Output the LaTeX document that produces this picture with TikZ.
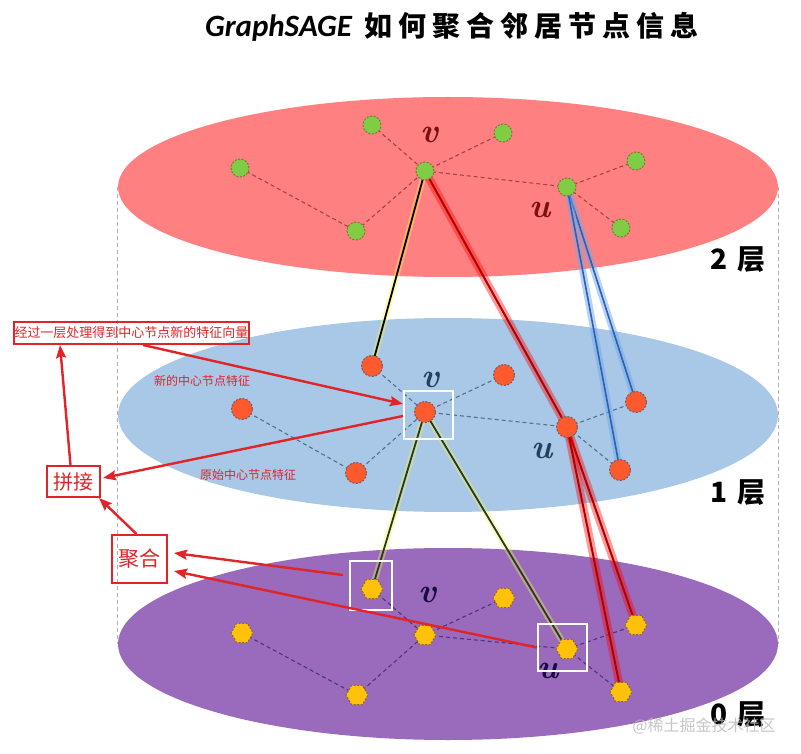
\documentclass[tikz,border=0pt]{standalone}
\usepackage{fontspec}
\newfontfamily\cjk{Noto Sans CJK SC}
\newfontfamily\carl{Carlito}
\usetikzlibrary{arrows.meta,shapes.geometric}
\definecolor{topfill}{HTML}{FF8080}
\definecolor{midfill}{HTML}{A9C7E6}
\definecolor{botfill}{HTML}{9A6BBC}
\definecolor{gfill}{HTML}{80CC44}
\definecolor{gline}{HTML}{8A7040}
\definecolor{ofill}{HTML}{FF5A2E}
\definecolor{oline}{HTML}{6E5A64}
\definecolor{yfill}{HTML}{FFC10A}
\definecolor{yline}{HTML}{8C6A2C}
\definecolor{tedgec}{HTML}{A8443F}
\definecolor{medgec}{HTML}{55708F}
\definecolor{bedgec}{HTML}{4C3480}
\definecolor{annot}{HTML}{E02428}
\definecolor{tvcol}{HTML}{7A1010}
\definecolor{mvcol}{HTML}{24405E}
\definecolor{bvcol}{HTML}{1A0A40}
\definecolor{bglowc}{HTML}{6FA8F0}
\definecolor{bcorec}{HTML}{2F5FAF}
\definecolor{rcorec}{HTML}{B00000}
\definecolor{gcorec}{HTML}{1F3A2A}
\begin{document}
\begin{tikzpicture}[x=1pt,y=-1pt,
  layer/.style={ellipse,inner sep=0pt,draw=none},
  sideline/.style={draw=gray!60,line width=0.8pt,dash pattern=on 4pt off 3pt},
  gnode/.style={circle,minimum size=18pt,inner sep=0pt,fill=gfill,draw=gline,line width=1pt,dash pattern=on 2pt off 1.5pt},
  onode/.style={circle,minimum size=21pt,inner sep=0pt,fill=ofill,draw=oline,line width=1pt,dash pattern=on 2pt off 1.5pt},
  ynode/.style={regular polygon,regular polygon sides=6,minimum size=22pt,inner sep=0pt,fill=yfill,draw=yline,line width=1pt,dash pattern=on 2pt off 1.5pt},
  tedge/.style={draw=tedgec,line width=1.1pt,dash pattern=on 4pt off 3pt},
  medge/.style={draw=medgec,line width=1.1pt,dash pattern=on 4pt off 3pt},
  bedge/.style={draw=bedgec,line width=1.1pt,dash pattern=on 4pt off 3pt},
  yglow/.style={draw=yellow!70!white,line width=6pt,opacity=.4},
  rglow/.style={draw=red,line width=8pt,opacity=.4},
  bglow/.style={draw=bglowc,line width=7pt,opacity=.5},
  kcore/.style={draw=black,line width=1.8pt},
  rcore/.style={draw=rcorec,line width=2pt},
  bcore/.style={draw=bcorec,line width=1.6pt},
  gcore/.style={draw=gcorec,line width=1.8pt},
  vlabel/.style={font=\bfseries\itshape\fontsize{34}{34}\selectfont,inner sep=0pt},
  wsq/.style={draw=white,line width=2pt,inner sep=0pt},
  layerlbl/.style={font=\cjk\bfseries\fontsize{28}{28}\selectfont,inner sep=0pt},
  redbox/.style={draw=annot,line width=2pt,inner sep=0pt,text=annot},
  annottext/.style={text=annot,font=\cjk\fontsize{12}{12}\selectfont,inner sep=0pt},
  redarrow/.style={draw=annot,line width=2.4pt,-{Stealth[length=13pt,width=10pt,inset=2pt]}}
]
\useasboundingbox (0,0) rectangle (801,754);
\fill[white] (0,0) rectangle (801,754);

% layers
\node[layer,fill=botfill,minimum width=660pt,minimum height=192pt] (L0) at (448,644) {};
\node[layer,fill=midfill,minimum width=660pt,minimum height=194pt] (L1) at (448,415) {};
\node[layer,fill=topfill,minimum width=660pt,minimum height=180pt] (L2) at (448,187) {};
\draw[sideline] (L2.west) -- (L0.west);
\draw[sideline] (L2.east) -- (L0.east);

% title
\node[inner sep=0pt] (title) at (452,27) {{\carl\bfseries\itshape\fontsize{31}{31}\selectfont GraphSAGE}\kern13pt{\cjk\bfseries\fontsize{28}{28}\selectfont 如\kern6pt何\kern6pt聚\kern6pt合\kern6pt邻\kern6pt居\kern6pt节\kern6pt点\kern6pt信\kern6pt息}};

% node coordinates
\coordinate (t1) at (372,125); \coordinate (t2) at (503,133); \coordinate (t3) at (240,168);
\coordinate (tv) at (425,171); \coordinate (t4) at (356,231); \coordinate (tu) at (567,187);
\coordinate (t5) at (636,161); \coordinate (t6) at (621,228);
\coordinate (m1) at (372,366); \coordinate (m2) at (504,375); \coordinate (m3) at (242,409);
\coordinate (mv) at (425,412); \coordinate (m4) at (356,473); \coordinate (mu) at (567,427);
\coordinate (m5) at (636,402); \coordinate (m6) at (620,470);
\coordinate (b1) at (372,589); \coordinate (b2) at (504,598); \coordinate (b3) at (242,633);
\coordinate (bv) at (425,635); \coordinate (b4) at (357,695); \coordinate (bu) at (567,649);
\coordinate (b5) at (636,625); \coordinate (b6) at (621,692);

% dashed edges
\draw[tedge] (t1) -- (tv); \draw[tedge] (t2) -- (tv); \draw[tedge] (t3) -- (t4);
\draw[tedge] (t4) -- (tv); \draw[tedge] (tv) -- (tu); \draw[tedge] (tu) -- (t5); \draw[tedge] (tu) -- (t6);
\draw[medge] (m1) -- (mv); \draw[medge] (m2) -- (mv); \draw[medge] (m3) -- (m4);
\draw[medge] (m4) -- (mv); \draw[medge] (mv) -- (mu); \draw[medge] (mu) -- (m5); \draw[medge] (mu) -- (m6);
\draw[bedge] (b1) -- (bv); \draw[bedge] (b2) -- (bv); \draw[bedge] (b3) -- (b4);
\draw[bedge] (b4) -- (bv); \draw[bedge] (bv) -- (bu); \draw[bedge] (bu) -- (b5); \draw[bedge] (bu) -- (b6);

% inter-layer lines
\draw[yglow] (tv) -- (m1); \draw[kcore] (tv) -- (m1);
\draw[rglow] (tv) -- (mu); \draw[rcore] (tv) -- (mu);
\draw[bglow] (tu) -- (m5); \draw[bcore] (tu) -- (m5);
\draw[bglow] (tu) -- (m6); \draw[bcore] (tu) -- (m6);
\draw[yglow] (mv) -- (b1); \draw[gcore] (mv) -- (b1);
\draw[yglow] (mv) -- (bu); \draw[gcore] (mv) -- (bu);
\draw[rglow] (mu) -- (b5); \draw[rcore] (mu) -- (b5);
\draw[rglow] (mu) -- (b6); \draw[rcore] (mu) -- (b6);

% nodes
\foreach \n in {t1,t2,t3,tv,t4,tu,t5,t6} \node[gnode] at (\n) {};
\foreach \n in {m1,m2,m3,mv,m4,mu,m5,m6} \node[onode] at (\n) {};
\foreach \n in {b1,b2,b3,bv,b4,bu,b5,b6} \node[ynode] at (\n) {};

% v/u labels
\node[vlabel,text=tvcol] (tvl) at (430,135) {v};
\node[vlabel,text=tvcol] (tul) at (540,210) {u};
\node[vlabel,text=mvcol] (mvl) at (431,380) {v};
\node[vlabel,text=mvcol] (mul) at (542,451) {u};
\node[vlabel,text=bvcol] (bvl) at (428,595) {v};
\node[vlabel,text=bvcol] (bul) at (548,671) {u};

% layer labels
\node[layerlbl] (lab2) at (738,260) {2\kern9pt层};
\node[layerlbl] (lab1) at (738,493) {1\kern9pt层};
\node[layerlbl] (lab0) at (738,715) {0\kern9pt层};

% white squares
\node[wsq,minimum width=49pt,minimum height=48pt] (sqv) at (428.5,415) {};
\node[wsq,minimum width=42pt,minimum height=49pt] (sqb1) at (371,585.5) {};
\node[wsq,minimum width=49pt,minimum height=47pt] (sqbu) at (562.5,647.5) {};

% annotation boxes and texts
\node[redbox,minimum width=235pt,minimum height=22pt,font=\cjk\fontsize{13}{13}\selectfont] (box1) at (131.5,333) {经过一层处理得到中心节点新的特征向量};
\node[redbox,minimum width=53pt,minimum height=31pt,font=\cjk\fontsize{20}{20}\selectfont] (pinjie) at (73.5,481.5) {拼接};
\node[redbox,minimum width=55pt,minimum height=48pt,font=\cjk\fontsize{21}{21}\selectfont] (juhe) at (139.5,559) {聚合};
\node[annottext] (newf) at (202,381) {新的中心节点特征};
\node[annottext] (oldf) at (248,475) {原始中心节点特征};

% red arrows
\draw[redarrow] ([xshift=11.5pt]box1.south) -- ([yshift=11pt]sqv.west);
\draw[redarrow] ([yshift=-1pt]sqv.west) -- ([xshift=2pt,yshift=3.5pt]pinjie.east);
\draw[redarrow] ([xshift=-3pt]pinjie.north) -- ([xshift=-71.5pt]box1.south);
\draw[redarrow] ([xshift=-3pt]juhe.north) -- ([xshift=-2pt]pinjie.south east);
\draw[redarrow] ([xshift=-6pt,yshift=10.5pt]sqb1.west) -- ([xshift=6pt,yshift=6pt]juhe.east);
\draw[redarrow] (sqbu.west) -- ([xshift=6pt,yshift=-12pt]juhe.east);

% watermark
\node[text=gray!55,opacity=.8,font=\cjk\fontsize{16}{16}\selectfont,inner sep=0pt] (wm) at (704,726) {@稀土掘金技术社区};
\end{tikzpicture}
\end{document}
